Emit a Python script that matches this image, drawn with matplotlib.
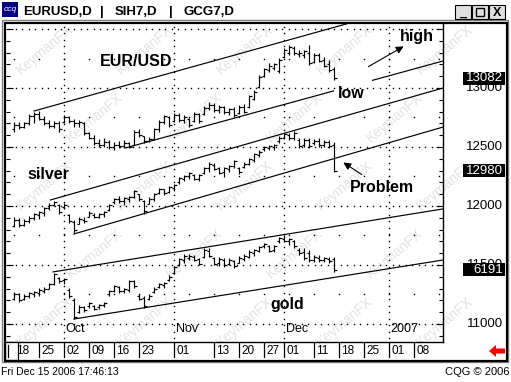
import matplotlib.pyplot as plt
from matplotlib.patches import Rectangle, Polygon
from matplotlib.transforms import blended_transform_factory
import numpy as np

W, H = 511, 382

# trading days counted from Mon 18 Sep 2006
days = np.arange(65)

# EUR/USD (price scale of the axis)
eur_open = [12650, 12690, 12670, 12700, 12760, 12780, 12740, 12700, 12680, 12700,
            12710, 12750, 12720, 12700, 12700, 12620, 12580, 12530, 12520, 12540,
            12500, 12520, 12510, 12530, 12520, 12630, 12590, 12550, 12570, 12650,
            12710, 12750, 12720, 12770, 12730, 12740, 12720, 12780, 12780, 12830,
            12860, 12810, 12840, 12800, 12820, 12790, 12840, 12840, 12910, 13010,
            13100, 13150, 13170, 13140, 13260, 13300, 13340, 13290, 13280, 13300,
            13220, 13280, 13240, 13200, 13160]
eur_high = [12712, 12712, 12712, 12780, 12797, 12805, 12763, 12729, 12720, 12720,
            12771, 12763, 12737, 12729, 12712, 12627, 12602, 12568, 12576, 12559,
            12542, 12551, 12559, 12542, 12644, 12653, 12593, 12585, 12661, 12729,
            12771, 12763, 12788, 12788, 12771, 12746, 12797, 12788, 12847, 12881,
            12873, 12856, 12847, 12830, 12839, 12856, 12864, 12941, 12983, 13110,
            13170, 13212, 13212, 13254, 13339, 13364, 13356, 13322, 13322, 13364,
            13297, 13297, 13263, 13237, 13178]
eur_low = [12627, 12653, 12661, 12686, 12703, 12729, 12686, 12661, 12661, 12627,
           12703, 12703, 12669, 12669, 12602, 12568, 12517, 12500, 12500, 12483,
           12475, 12492, 12492, 12492, 12517, 12585, 12534, 12542, 12559, 12627,
           12695, 12669, 12712, 12712, 12703, 12669, 12712, 12703, 12771, 12814,
           12797, 12788, 12780, 12771, 12754, 12780, 12788, 12830, 12898, 13000,
           13093, 13136, 13153, 13127, 13254, 13280, 13280, 13263, 13254, 13195,
           13212, 13220, 13178, 13136, 13072]
eur_close = [12690, 12670, 12700, 12760, 12780, 12740, 12700, 12680, 12700, 12650,
             12750, 12720, 12700, 12710, 12620, 12580, 12530, 12520, 12540, 12500,
             12520, 12510, 12530, 12500, 12630, 12600, 12550, 12570, 12650, 12710,
             12760, 12690, 12770, 12730, 12750, 12690, 12780, 12720, 12830, 12860,
             12810, 12840, 12800, 12820, 12770, 12840, 12800, 12930, 12970, 13090,
             13160, 13190, 13200, 13240, 13320, 13350, 13300, 13300, 13310, 13210,
             13280, 13230, 13190, 13150, 13082]

# silver overlay (drawn on the same axis)
sil_open = [11830, 11880, 11840, 11870, 11900, 11920, 11940, 11980, 12010, 12010,
            11990, 11920, 11860, 11850, 11880, 11910, 11920, 11910, 11930, 11970,
            12030, 12060, 12040, 12060, 12080, 12100, 12040, 12020, 12060, 12110,
            12140, 12120, 12150, 12200, 12230, 12250, 12260, 12230, 12280, 12320,
            12350, 12320, 12290, 12310, 12340, 12320, 12330, 12360, 12390, 12430,
            12480, 12490, 12500, 12550, 12580, 12600, 12580, 12560, 12520, 12560,
            12530, 12550, 12520, 12540, 12520]
sil_high = [11907, 11898, 11890, 11915, 11941, 11958, 11992, 12025, 12042, 12017,
            12025, 11932, 11881, 11907, 11907, 11958, 11941, 11941, 11958, 12017,
            12068, 12085, 12076, 12085, 12136, 12102, 12051, 12076, 12110, 12153,
            12144, 12169, 12186, 12246, 12263, 12288, 12271, 12271, 12330, 12373,
            12364, 12330, 12330, 12347, 12390, 12330, 12373, 12407, 12449, 12475,
            12508, 12517, 12525, 12593, 12619, 12619, 12636, 12576, 12576, 12576,
            12568, 12576, 12559, 12559, 12542]
sil_low = [11822, 11822, 11831, 11856, 11881, 11890, 11915, 11966, 12000, 11932,
           11975, 11856, 11763, 11847, 11856, 11907, 11898, 11898, 11907, 11958,
           12017, 12025, 12008, 12034, 12068, 12042, 11932, 12017, 12042, 12102,
           12093, 12110, 12127, 12186, 12212, 12229, 12220, 12212, 12271, 12288,
           12305, 12271, 12246, 12288, 12322, 12271, 12322, 12347, 12373, 12415,
           12466, 12475, 12475, 12534, 12568, 12559, 12559, 12492, 12500, 12492,
           12517, 12500, 12500, 12492, 12288]
sil_close = [11880, 11840, 11870, 11900, 11930, 11950, 11980, 12010, 12030, 11950,
             12010, 11870, 11800, 11890, 11870, 11940, 11910, 11930, 11950, 12010,
             12060, 12040, 12070, 12080, 12130, 12060, 11960, 12060, 12100, 12140,
             12110, 12160, 12180, 12240, 12250, 12280, 12230, 12260, 12320, 12360,
             12310, 12280, 12320, 12340, 12380, 12290, 12360, 12400, 12440, 12460,
             12500, 12510, 12520, 12580, 12610, 12580, 12620, 12510, 12560, 12510,
             12550, 12520, 12540, 12510, 12300]

# gold overlay
gld_open = [11210, 11250, 11210, 11240, 11250, 11260, 11280, 11300, 11340, 11390,
            11370, 11290, 11200, 11100, 11140, 11150, 11150, 11140, 11160, 11250,
            11280, 11310, 11280, 11290, 11360, 11240, 11220, 11210, 11270, 11310,
            11330, 11370, 11430, 11500, 11540, 11560, 11570, 11550, 11570, 11620,
            11560, 11520, 11540, 11510, 11530, 11520, 11550, 11570, 11600, 11620,
            11660, 11660, 11630, 11700, 11720, 11700, 11700, 11630, 11610, 11600,
            11540, 11560, 11540, 11550, 11550]
gld_high = [11271, 11263, 11254, 11271, 11280, 11305, 11314, 11347, 11432, 11398,
            11390, 11305, 11220, 11161, 11152, 11186, 11161, 11169, 11186, 11288,
            11330, 11322, 11305, 11373, 11373, 11254, 11237, 11254, 11314, 11347,
            11356, 11415, 11492, 11559, 11593, 11593, 11585, 11559, 11644, 11644,
            11568, 11568, 11559, 11559, 11542, 11576, 11593, 11627, 11636, 11661,
            11686, 11669, 11669, 11737, 11754, 11729, 11712, 11644, 11644, 11627,
            11585, 11585, 11568, 11568, 11568]
gld_low = [11203, 11186, 11203, 11220, 11229, 11237, 11263, 11297, 11330, 11347,
           11339, 11220, 11042, 11093, 11102, 11136, 11119, 11127, 11144, 11237,
           11271, 11263, 11263, 11271, 11305, 11203, 11136, 11203, 11263, 11305,
           11305, 11364, 11424, 11492, 11517, 11542, 11534, 11500, 11559, 11568,
           11500, 11492, 11483, 11500, 11475, 11517, 11534, 11559, 11576, 11610,
           11644, 11610, 11610, 11686, 11695, 11669, 11644, 11585, 11542, 11525,
           11525, 11525, 11525, 11517, 11441]
gld_close = [11250, 11200, 11240, 11260, 11270, 11290, 11300, 11340, 11420, 11360,
             11380, 11240, 11060, 11140, 11120, 11180, 11130, 11160, 11180, 11280,
             11320, 11280, 11300, 11360, 11320, 11210, 11150, 11240, 11300, 11340,
             11350, 11400, 11480, 11550, 11580, 11580, 11540, 11510, 11630, 11580,
             11510, 11550, 11500, 11540, 11490, 11560, 11580, 11610, 11630, 11650,
             11680, 11620, 11660, 11730, 11700, 11720, 11660, 11600, 11560, 11540,
             11570, 11540, 11560, 11530, 11458]

# channel lines: (day0, value0, day1, value1)
channels = [
    (4.0, 12805, 70.0, 13585),       # EUR/USD high
    (22.3, 12492, 63.9, 12975),      # EUR/USD low (left of label)
    (71.7, 13065, 85.8, 13229),      # EUR/USD low (right of label)
    (7.3, 12051, 85.8, 13000),       # silver high
    (12.0, 11763, 85.8, 12669),      # silver low
    (7.8, 11441, 85.8, 11975),       # gold high
    (12.0, 11042, 85.8, 11542),      # gold low
]

date_pos = [0, 5, 10, 15, 20, 25, 32, 40, 45, 50, 54, 60, 65, 70, 75, 80]
date_lab = ["18", "25", "02", "09", "16", "23", "01", "13", "20", "27",
            "01", "11", "18", "25", "01", "08"]
month_pos = [10, 32, 54, 75]
month_lab = ["Oct", "Nov", "Dec", "2007"]
price_ticks = [11000, 11500, 12000, 12500, 13000]
last_vals = [(13082, "13082"), (12300, "12980"), (11458, "6191")]

FONT = "Liberation Sans"
plt.rcParams['font.family'] = [FONT, 'DejaVu Sans']


def fx(x):
    return x / W


def fy(y):
    return 1 - y / H


fig = plt.figure(figsize=(W / 100, H / 100), dpi=100)
fig.patch.set_facecolor('white')

#faint watermark behind everything
for row in range(5):
    for col in range(5):
        wx = 45 + col * 100 + (row % 2) * 50
        wy = 50 + row * 68
        if wx > 470:
            continue
        fig.text(fx(wx), fy(wy), "KeymanFX", color='#e3e3e3', fontsize=10,
                 rotation=40, ha='center', va='center', zorder=-5)

# main chart
ax = fig.add_axes([fx(6), fy(342), fx(443) - fx(6), fy(23) - fy(342)])
ax.set_zorder(2)
ax.patch.set_alpha(0)
ax.set_xlim(-1.6, 85.8)
ax.set_ylim(10847, 13551)

# dotted grid drawn as single-pixel dots (about every 6.5 px)
dot = dict(ls='none', marker='s', ms=1.0, mew=0, color='black', zorder=1)
grid_x = np.arange(-1.0, 85.8, 1.3)
grid_y = np.arange(10880, 13551, 55)
for lev in range(11000, 13600, 500):
    ax.plot(grid_x, np.full(grid_x.size, lev), **dot)
for lev in range(11250, 13500, 500):
    ax.plot(np.arange(0, 86, 5), np.full(18, lev), **dot)
for m in month_pos:
    ax.plot(np.full(grid_y.size, m), grid_y, **dot)


def ohlc(o, h, l, c):
    ax.vlines(days, l, h, color='black', lw=0.85, zorder=3)
    ax.hlines(o, days - 0.5, days, color='black', lw=0.85, zorder=3)
    ax.hlines(c, days, days + 0.5, color='black', lw=0.85, zorder=3)


ohlc(eur_open, eur_high, eur_low, eur_close)
ohlc(sil_open, sil_high, sil_low, sil_close)
ohlc(gld_open, gld_high, gld_low, gld_close)

for d0, v0, d1, v1 in channels:
    ax.plot([d0, d1], [v0, v1], color='black', lw=0.85, zorder=2)

for m, lab in zip(month_pos, month_lab):
    ax.text(m + 0.3, 10847 + 60, lab, fontsize=9, ha='left', va='bottom')

ax.set_xticks([])
ax.set_yticks(np.arange(10900, 13551, 100), minor=True)
ax.set_yticks(price_ticks + [13500])
ax.tick_params(axis='y', which='both', direction='in', left=True, right=True,
               labelleft=False, labelright=False, width=0.8, color='black')
ax.tick_params(axis='y', which='major', length=5)
ax.tick_params(axis='y', which='minor', length=3)
for s in ['top', 'left']:
    ax.spines[s].set_visible(False)
ax.spines['right'].set_linewidth(1.0)
ax.spines['bottom'].set_linewidth(1.0)

# price labels on the right
tr = blended_transform_factory(fig.transFigure, ax.transData)
for p in price_ticks:
    ax.text(fx(503), p, str(p), transform=tr, ha='right', va='center',
            fontsize=9.5, zorder=4, clip_on=False)
for v, lab in last_vals:
    ax.add_patch(Rectangle((fx(463), v - 55), fx(505) - fx(463), 110,
                           transform=tr, facecolor='black', edgecolor='none',
                           zorder=5, clip_on=False))
    ax.text(fx(503), v, lab, transform=tr, ha='right', va='center',
            fontsize=9.5, color='white', zorder=6, clip_on=False)

# annotations
bold = dict(fontsize=11.5, fontweight='bold', va='center', ha='left')
fig.text(fx(100), fy(61), "EUR/USD", **bold)
fig.text(fx(27), fy(175), "silver", **bold)
fig.text(fx(350), fy(188), "Problem", **bold)
fig.text(fx(270), fy(304), "gold", **bold)
fig.text(fx(400), fy(36), "high", **bold)
fig.text(fx(338), fy(94), "low", **bold)
arrow = dict(arrowstyle='-|>', color='black', lw=0.8, mutation_scale=11)
ax.annotate('', xy=(fx(406), fy(45)), xycoords='figure fraction',
            xytext=(fx(366), fy(68)), textcoords='figure fraction',
            arrowprops=arrow)
ax.annotate('', xy=(fx(341), fy(161)), xycoords='figure fraction',
            xytext=(fx(364), fy(176)), textcoords='figure fraction',
            arrowprops=arrow)

# date strip
ax2 = fig.add_axes([fx(6), fy(360), fx(443) - fx(6), fy(342) - fy(360)])
ax2.set_zorder(2)
ax2.set_xlim(-1.6, 85.8)
ax2.set_ylim(0, 1)
ax2.axis('off')
for d, lab in zip(date_pos, date_lab):
    ax2.plot([d, d], [0.15, 1], color='black', lw=0.9)
    ax2.text(d + 0.5, 0.5, lab, fontsize=8.5, ha='left', va='center')
fig.add_artist(Rectangle((fx(5), fy(360)), fx(18) - fx(5), fy(342) - fy(360),
                         transform=fig.transFigure, facecolor='white',
                         edgecolor='black', lw=0.9, zorder=3))
fig.add_artist(plt.Line2D([fx(7.5), fx(7.5)], [fy(357), fy(345)],
                          transform=fig.transFigure, color='black', lw=0.9,
                          zorder=4))

# red arrow bottom right
fig.add_artist(Polygon([[fx(489), fy(351)], [fx(496), fy(345)], [fx(496), fy(348.5)],
                        [fx(505), fy(348.5)], [fx(505), fy(353.5)], [fx(496), fy(353.5)],
                        [fx(496), fy(357)]], closed=True, transform=fig.transFigure,
                       facecolor='#ff0000', edgecolor='none'))

# window frame
fig.add_artist(Rectangle((fx(2), fy(362)), fx(508) - fx(2), fy(20) - fy(362),
                         transform=fig.transFigure, facecolor='none',
                         edgecolor='#808080', lw=1))
fig.add_artist(Rectangle((fx(4.5), fy(360.5)), fx(506.5) - fx(4.5), fy(22.5) - fy(360.5),
                         transform=fig.transFigure, facecolor='none',
                         edgecolor='black', lw=1.6, zorder=3))

# title bar
fig.add_artist(Rectangle((fx(2), fy(17)), fx(18) - fx(2), fy(2) - fy(17),
                         transform=fig.transFigure, facecolor='#000080',
                         edgecolor='none'))
fig.text(fx(10), fy(9.5), "ccq", color='white', fontsize=6, style='italic',
         ha='center', va='center')
tb = dict(fontsize=9.5, fontweight='bold', va='center', ha='left')
fig.text(fx(23), fy(12), "EURUSD,D", **tb)
fig.text(fx(100), fy(12), "|", **tb)
fig.text(fx(115), fy(12), "SIH7,D", **tb)
fig.text(fx(169), fy(12), "|", **tb)
fig.text(fx(183), fy(12), "GCG7,D", **tb)
for bx in [455, 472, 489]:
    fig.add_artist(Rectangle((fx(bx), fy(19)), fx(16) - fx(0), fy(5) - fy(19),
                             transform=fig.transFigure, facecolor='#e0e0e0',
                             edgecolor='black', lw=0.8))
fig.add_artist(Rectangle((fx(476), fy(16)), fx(8) - fx(0), fy(8) - fy(16),
                         transform=fig.transFigure, facecolor='none',
                         edgecolor='black', lw=1))
fig.text(fx(463), fy(13), "_", fontsize=9, fontweight='bold', ha='center', va='center')
fig.text(fx(497), fy(12.5), "X", fontsize=9, fontweight='bold', ha='center', va='center')

# footer
fig.text(fx(1), fy(372), "Fri Dec 15 2006 17:46:13", fontsize=7.5, va='center', ha='left')
fig.text(fx(509), fy(372), "CQG \u00a9 2006", fontsize=8, va='center', ha='right')

fig.savefig("out.png", dpi=100)
